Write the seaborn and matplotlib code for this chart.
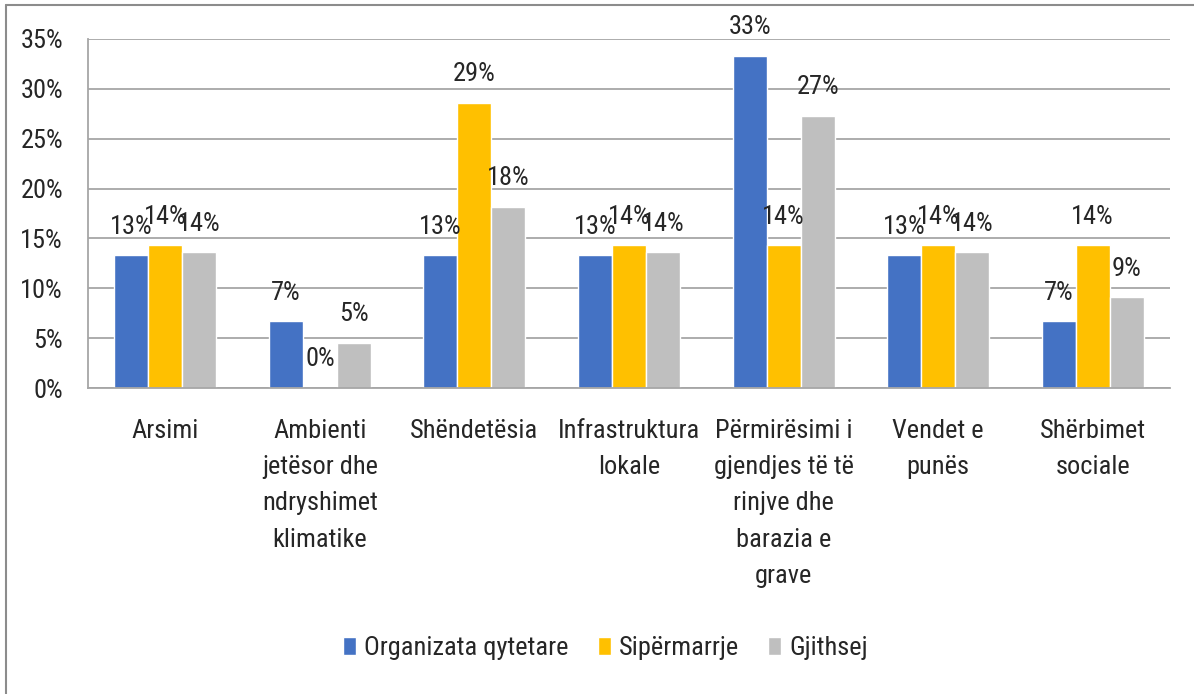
import pandas as pd
import matplotlib
matplotlib.use("Agg")
import matplotlib.pyplot as plt
from matplotlib import font_manager
from matplotlib.lines import Line2D
from matplotlib.ticker import FixedLocator, PercentFormatter
import seaborn as sns

# --- data (percent) ---
categories = [
    "Arsimi",
    "Ambienti\njetësor dhe\nndryshimet\nklimatike",
    "Shëndetësia",
    "Infrastruktura\nlokale",
    "Përmirësimi i\ngjendjes të të\nrinjve dhe\nbarazia e\ngrave",
    "Vendet e\npunës",
    "Shërbimet\nsociale",
]
series_names = ["Organizata qytetare", "Sipërmarrje", "Gjithsej"]
organizata = [13.3, 6.7, 13.3, 13.3, 33.3, 13.3, 6.7]
sipermarrje = [14.3, 0.0, 28.6, 14.3, 14.3, 14.3, 14.3]
gjithsej = [13.6, 4.55, 18.2, 13.6, 27.3, 13.6, 9.1]
colors = ["#4472C4", "#FFC000", "#BFBFBF"]

rows = []
for name, vals in zip(series_names, [organizata, sipermarrje, gjithsej]):
    for cat, v in zip(categories, vals):
        rows.append({"cat": cat, "series": name, "value": v})
df = pd.DataFrame(rows)

sns.set_style("white")
installed = {f.name for f in font_manager.fontManager.ttflist}
fam = [f for f in ["Liberation Sans Narrow", "DejaVu Sans Condensed", "Roboto Condensed",
                   "Liberation Sans"] if f in installed] + ["DejaVu Sans"]
plt.rcParams["font.family"] = fam
text_color = "#262626"
fs = 19

fig = plt.figure(figsize=(11.94, 6.94), dpi=100)
ax = fig.add_axes([88 / 1194, 1 - 388 / 694, (1170 - 88) / 1194, (388 - 39) / 694])

sns.barplot(data=df, x="cat", y="value", hue="series", palette=colors,
            width=0.66, gap=0, saturation=1, ax=ax, order=categories,
            hue_order=series_names, legend=True)

for cont in ax.containers:
    ax.bar_label(cont, labels=[f"{v:.0f}%" for v in cont.datavalues],
                 padding=12, fontsize=fs, color=text_color)

ax.set_ylim(0, 35)
ax.set_xlim(-0.5, len(categories) - 0.5)
ax.set_yticks(range(0, 36, 5))
ax.yaxis.set_major_formatter(PercentFormatter(decimals=0))
ax.yaxis.grid(True, color="#A6A6A6", linewidth=1.3)
ax.set_axisbelow(True)
ax.set_xlabel("")
ax.set_ylabel("")

ax.xaxis.set_minor_locator(FixedLocator([i - 0.5 for i in range(len(categories) + 1)]))
ax.tick_params(axis="x", which="major", length=0, pad=22, labelsize=fs, labelcolor=text_color)
ax.tick_params(axis="x", which="minor", length=7, width=1.3, color="#A6A6A6", direction="out")
ax.tick_params(axis="y", length=6, width=1.3, color="#A6A6A6", direction="out",
               labelsize=fs, labelcolor=text_color, pad=12)
for lbl in ax.get_xticklabels():
    lbl.set_linespacing(1.65)

for side in ["top", "right"]:
    ax.spines[side].set_visible(False)
for side in ["left", "bottom"]:
    ax.spines[side].set_color("#A6A6A6")
    ax.spines[side].set_linewidth(1.3)

handles, labels = ax.get_legend_handles_labels()
ax.get_legend().remove()
fig.legend(handles, labels, loc="center", bbox_to_anchor=(0.507, 1 - 648 / 694),
           ncol=3, frameon=False, fontsize=fs, handlelength=0.5, handleheight=0.7,
           handletextpad=0.3, columnspacing=1.1, labelcolor=text_color)

# outer frame (top and left edges of the chart object)
fig.add_artist(Line2D([6 / 1194, 1], [1 - 4.5 / 694, 1 - 4.5 / 694], color="#8C8C8C", linewidth=1.5))
fig.add_artist(Line2D([6 / 1194, 6 / 1194], [0, 1 - 4.5 / 694], color="#8C8C8C", linewidth=1.5))

fig.savefig("out.png", dpi=100)
